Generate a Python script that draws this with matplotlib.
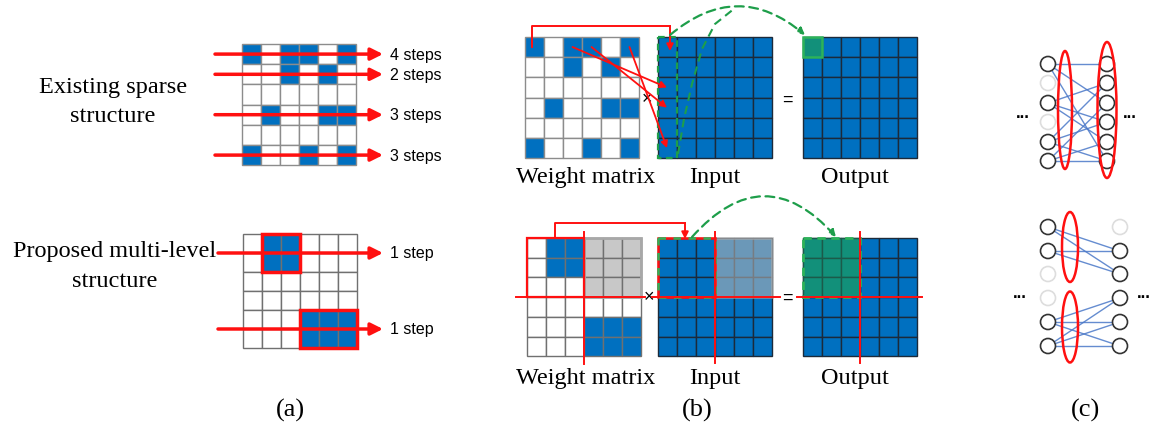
import matplotlib.pyplot as plt
from matplotlib.patches import Rectangle, Circle, Ellipse
import numpy as np

# --- data -------------------------------------------------------------
# 1 = nonzero weight (blue), 0 = zero (white), 2 = skipped block (gray)
sparse_w = [[1, 0, 1, 1, 0, 1],
            [0, 0, 1, 0, 1, 0],
            [0, 0, 0, 0, 0, 0],
            [0, 1, 0, 0, 1, 1],
            [0, 0, 0, 0, 0, 0],
            [1, 0, 0, 1, 0, 1]]
sparse_rows = [0, 1, 3, 5]
sparse_steps = ['4 steps', '2 steps', '3 steps', '3 steps']

multi_w = [[0, 1, 1, 0, 0, 0],
           [0, 1, 1, 0, 0, 0],
           [0, 0, 0, 0, 0, 0],
           [0, 0, 0, 0, 0, 0],
           [0, 0, 0, 1, 1, 1],
           [0, 0, 0, 1, 1, 1]]
multi_blocks = [(0, 1, 2, 2), (4, 3, 2, 3)]   # row, col, nrows, ncols
multi_steps = ['1 step', '1 step']

multi_w_b = [[0, 1, 1, 2, 2, 2],
             [0, 1, 1, 2, 2, 2],
             [0, 0, 0, 2, 2, 2],
             [0, 0, 0, 0, 0, 0],
             [0, 0, 0, 1, 1, 1],
             [0, 0, 0, 1, 1, 1]]
full = [[1] * 6 for _ in range(6)]
row0_links = [2, 3, 5]  # nonzero columns of weight row 0 -> input rows

# neural nets (c)
top_left_on = [1, 0, 1, 0, 1, 1]
top_right_on = [1, 1, 1, 1, 1, 1]
top_edges = [(0, 0), (0, 2), (0, 5), (2, 1), (2, 3), (2, 4),
             (4, 1), (4, 3), (4, 5), (5, 2), (5, 4), (5, 5)]
bot_left_on = [1, 1, 0, 0, 1, 1]
bot_right_on = [0, 1, 1, 1, 1, 1]
bot_edges = [(0, 1), (0, 2), (1, 1), (1, 2),
             (4, 3), (4, 4), (4, 5), (5, 3), (5, 4), (5, 5)]

panel_labels = ['(a)', '(b)', '(c)']
mat_labels = ['Weight matrix', 'Input', 'Output']

BLUE = '#0070C0'
RED = '#FF1010'
GREEN = '#1E9E4A'
TEAL = '#12907A'
SERIF = 'Liberation Serif'
SANS = 'Liberation Sans'

fig = plt.figure(figsize=(11.56, 4.39), dpi=100)
ax = fig.add_axes([0, 0, 1, 1])
ax.set_xlim(0, 1156)
ax.set_ylim(439, 0)
ax.axis('off')


def draw_grid(x0, y0, mat, cw, ch, line='#8c8c8c', lw=1.0, fills=None):
    fills = fills or {0: 'white', 1: BLUE, 2: '#C8C8C8'}
    for i, row in enumerate(mat):
        for j, v in enumerate(row):
            ax.add_patch(Rectangle((x0 + j * cw, y0 + i * ch), cw, ch,
                                   facecolor=fills[v], edgecolor=line, lw=lw, zorder=2))


def arrow(x1, y1, x2, y2, color=RED, lw=2.5, ms=16, ls='-', rad=0.0, z=5):
    ax.annotate('', xy=(x2, y2), xytext=(x1, y1),
                arrowprops=dict(arrowstyle='-|>', color=color, lw=lw, mutation_scale=ms,
                                linestyle=ls, shrinkA=0, shrinkB=0,
                                connectionstyle=f'arc3,rad={rad}'), zorder=z)


# --- (a) ---------------------------------------------------------------
ax.text(113, 88, 'Existing sparse', fontsize=17.5, family=SERIF, ha='center', va='center')
ax.text(113, 117, 'structure', fontsize=17.5, family=SERIF, ha='center', va='center')
ax.text(115, 252, 'Proposed multi-level', fontsize=17.5, family=SERIF, ha='center', va='center')
ax.text(115, 282, 'structure', fontsize=17.5, family=SERIF, ha='center', va='center')

cw, ch = 19, 20.2
draw_grid(242, 45, sparse_w, cw, ch)
for r, s in zip(sparse_rows, sparse_steps):
    y = 45 + (r + 0.5) * ch
    arrow(215, y, 383, y, ms=18)
    ax.text(390, y, s, fontsize=11.5, family=SANS, va='center')

cw2, ch2 = 19, 19
draw_grid(243, 235, multi_w, cw2, ch2, line='#707070')
for (r, c, nr, nc), s in zip(multi_blocks, multi_steps):
    ax.add_patch(Rectangle((243 + c * cw2, 235 + r * ch2), nc * cw2, nr * ch2,
                           fill=False, edgecolor=RED, lw=2.5, zorder=4))
    y = 235 + (r + 1) * ch2
    arrow(218, y, 383, y, ms=18)
    ax.text(390, y, s, fontsize=11.5, family=SANS, va='center')

# --- (b) top -----------------------------------------------------------
draw_grid(525, 38, sparse_w, 19, 20.2)
draw_grid(658, 38, full, 19, 20.2, line='#1c2a3a')
draw_grid(803, 38, full, 19, 20.2, line='#1c2a3a')
ax.add_patch(Rectangle((803, 38), 19, 20.2, facecolor=TEAL, edgecolor='#2DB35A', lw=1.8, zorder=3))
ax.add_patch(Rectangle((658, 38), 19, 121.2, fill=False, edgecolor=GREEN, lw=1.6,
                       ls=(0, (3, 2)), zorder=4))
# red links weight row 0 -> input column 0
ax.plot([532, 532, 670], [48, 27, 27], color=RED, lw=1.4, zorder=5)
arrow(670, 27, 670, 52, lw=1.4, ms=10)
for c in row0_links:
    arrow(525 + (c + 0.5) * 19, 48, 667, 38 + (c + 0.5) * 20.2, lw=1.3, ms=10)
# green dashed paths to output cell
arrow(670, 36, 805, 36, color=GREEN, lw=1.6, ms=10, ls=(0, (4, 2.5)), rad=-0.42)
ax.plot([678, 684, 692, 702, 715, 735], [155, 120, 85, 50, 25, 9],
        color=GREEN, lw=1.5, ls=(0, (4, 2.5)), zorder=5)
ax.text(647, 100, '×', fontsize=13, family=SANS, ha='center', va='center')
ax.text(787, 100, '=', fontsize=13, family=SANS, ha='center', va='center')

# --- (b) bottom --------------------------------------------------------
ch3 = 19.7
draw_grid(527, 239, multi_w_b, 19, ch3, line='#707070')
ax.add_patch(Rectangle((527 + 57, 239), 57, 3 * ch3, fill=False, edgecolor='#A8A8A8', lw=2, zorder=3))
draw_grid(658, 239, full, 19, ch3, line='#1c2a3a')
ax.add_patch(Rectangle((658 + 57, 239), 57, 3 * ch3, facecolor='#B4B4B4', alpha=0.6,
                       edgecolor='#B0B0B0', lw=2, zorder=3))
draw_grid(803, 239, full, 19, ch3, line='#1c2a3a')
for i in range(3):
    for j in range(3):
        ax.add_patch(Rectangle((803 + j * 19, 239 + i * ch3), 19, ch3, facecolor=TEAL,
                               edgecolor='#1c5a4a', lw=1, zorder=3))
ax.add_patch(Rectangle((803, 239), 57, 3 * ch3, fill=False, edgecolor='#2DB35A', lw=2,
                       ls=(0, (3, 2)), zorder=4))
ax.add_patch(Rectangle((527, 239), 57, 3 * ch3, fill=False, edgecolor=RED, lw=1.6, zorder=4))
ax.add_patch(Rectangle((658, 239), 57, 3 * ch3, fill=False, edgecolor=RED, lw=1.8, zorder=4))
ax.add_patch(Rectangle((658, 239), 57, 3 * ch3, fill=False, edgecolor='#2DB35A', lw=1.8,
                       ls=(0, (3, 3)), zorder=4))
# block partition lines
ax.plot([516, 645], [298, 298], color=RED, lw=1.4, zorder=5)
ax.plot([584, 584], [233, 365], color=RED, lw=1.4, zorder=5)
ax.plot([652, 780], [298, 298], color=RED, lw=1.4, zorder=5)
ax.plot([715, 715], [233, 364], color=RED, lw=1.4, zorder=5)
ax.plot([797, 922], [298, 298], color=RED, lw=1.4, zorder=5)
ax.plot([860, 860], [233, 364], color=RED, lw=1.4, zorder=5)
ax.plot([555, 555, 685], [239, 224, 224], color=RED, lw=1.4, zorder=5)
arrow(685, 224, 685, 240, lw=1.4, ms=10)
arrow(692, 238, 836, 238, color=GREEN, lw=1.6, ms=10, ls=(0, (4, 2.5)), rad=-0.56)
ax.text(649, 298, '×', fontsize=13, family=SANS, ha='center', va='center')
ax.text(787, 298, '=', fontsize=13, family=SANS, ha='center', va='center')

for yl in [178, 379]:
    for xl, lab in zip([586, 715, 855], mat_labels):
        ax.text(xl, yl, lab, fontsize=17.5, family=SERIF, ha='center', va='center')

# --- (c) ---------------------------------------------------------------
def draw_net(xl, xr, ys, left_on, right_on, edges):
    for a, b in edges:
        ax.plot([xl, xr], [ys[a], ys[b]], color='#4A78C8', lw=1.0, alpha=0.85, zorder=2)
    for x, on in [(xl, left_on), (xr, right_on)]:
        for y, o in zip(ys, on):
            ax.add_patch(Circle((x, y), 7.5, facecolor='white',
                                edgecolor='#333333' if o else '#DDDDDD', lw=1.2, zorder=3))


top_y = [65, 84, 104, 123, 143, 162]
draw_net(1048, 1107, top_y, top_left_on, top_right_on, top_edges)
ax.add_patch(Ellipse((1065, 111), 14, 118, fill=False, edgecolor=RED, lw=1.8, zorder=4))
ax.add_patch(Ellipse((1107, 111), 19, 136, fill=False, edgecolor=RED, lw=1.8, zorder=4))
ax.text(1023, 114, '...', fontsize=12, family=SANS, ha='center', va='center', weight='bold')
ax.text(1130, 114, '...', fontsize=12, family=SANS, ha='center', va='center', weight='bold')

bot_y = [228, 252, 275, 299, 323, 347]
draw_net(1048, 1120, bot_y, bot_left_on, bot_right_on, bot_edges)
ax.add_patch(Ellipse((1070, 248), 16, 70, fill=False, edgecolor=RED, lw=1.8, zorder=4))
ax.add_patch(Ellipse((1070, 328), 16, 71, fill=False, edgecolor=RED, lw=1.8, zorder=4))
ax.text(1020, 294, '...', fontsize=12, family=SANS, ha='center', va='center', weight='bold')
ax.text(1144, 294, '...', fontsize=12, family=SANS, ha='center', va='center', weight='bold')

for xl, lab in zip([290, 697, 1086], panel_labels):
    ax.text(xl, 410, lab, fontsize=19, family=SERIF, ha='center', va='center')

fig.savefig('out.png', dpi=100)
